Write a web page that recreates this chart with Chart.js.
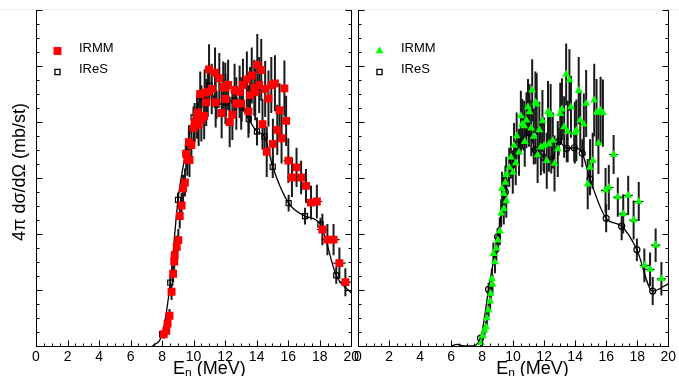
<!DOCTYPE html>
<html lang="en">
<head>
<meta charset="UTF-8">
<title>IRMM / IReS neutron spectra</title>
<script src="https://cdn.jsdelivr.net/npm/chart.js"></script>
<style>
  body { margin: 0; background: #fff; }
  .wrap { position: relative; width: 679px; height: 376px; overflow: hidden; }
  canvas { position: absolute; top: 0; }
  #left { left: 0; }
  #right { left: 340px; }
</style>
</head>
<body>
<div class="wrap">
  <canvas id="left" width="362" height="376"></canvas>
  <canvas id="right" width="339" height="376"></canvas>
</div>
<script>
const FONT = "'Liberation Sans', Arial, sans-serif";

// ---- left panel: IRMM (red squares), IReS (open squares + fit curve)
const leftIrmmE = [8.10, 8.27, 8.35, 8.47, 8.60, 8.70, 8.77, 8.80, 8.93, 9.03, 9.12, 9.24, 9.33, 9.45, 9.53, 9.60, 9.70, 9.74, 9.86, 10.01,
  10.07, 10.22, 10.26, 10.32, 10.42, 10.49, 10.67, 10.70, 10.80, 10.90, 10.98, 11.15, 11.36, 11.40, 11.63, 11.78, 11.88, 12.01, 12.02, 12.19,
  12.29, 12.46, 12.60, 12.71, 12.92, 13.02, 13.13, 13.38, 13.48, 13.58, 13.69, 13.85, 13.91, 14.04, 14.16, 14.29, 14.37, 14.54, 14.64, 14.75,
  14.93, 15.03, 15.16, 15.31, 15.45, 15.58, 15.76, 15.87, 16.01, 16.24, 16.53, 16.82, 17.13, 17.45, 17.82, 18.17, 18.49, 18.88, 19.25, 19.63];
const leftIrmmY = [0.21, 0.27, 0.40, 0.54, 0.97, 1.29, 1.51, 1.62, 1.77, 1.89, 2.32, 2.51, 2.81, 2.92, 3.43, 3.32, 3.64, 3.32, 3.59, 3.89,
  3.99, 4.08, 4.17, 3.95, 4.50, 4.05, 4.11, 4.52, 4.35, 4.54, 4.94, 4.59, 4.88, 4.35, 4.78, 4.16, 4.63, 4.61, 4.41, 4.66,
  4.00, 4.13, 4.57, 4.33, 4.54, 4.33, 4.66, 4.76, 4.19, 4.48, 4.83, 4.61, 4.53, 5.02, 4.66, 4.93, 3.96, 4.59, 3.47, 4.42,
  4.66, 3.61, 4.69, 3.86, 4.21, 3.71, 4.60, 4.02, 3.31, 3.01, 3.19, 3.01, 2.86, 2.56, 2.58, 2.08, 1.90, 1.90, 1.48, 1.14];
const leftIrmmDy = [0.08, 0.10, 0.10, 0.12, 0.15, 0.15, 0.18, 0.18, 0.20, 0.20, 0.22, 0.22, 0.25, 0.25, 0.28, 0.28, 0.30, 0.30, 0.32, 0.35,
  0.35, 0.38, 0.38, 0.38, 0.40, 0.40, 0.42, 0.42, 0.42, 0.45, 0.45, 0.45, 0.45, 0.45, 0.45, 0.45, 0.45, 0.45, 0.45, 0.45,
  0.45, 0.45, 0.47, 0.47, 0.47, 0.47, 0.47, 0.50, 0.47, 0.50, 0.50, 0.50, 0.50, 0.55, 0.50, 0.55, 0.45, 0.50, 0.45, 0.50,
  0.50, 0.45, 0.50, 0.45, 0.48, 0.45, 0.50, 0.45, 0.40, 0.35, 0.35, 0.30, 0.30, 0.30, 0.30, 0.28, 0.28, 0.28, 0.28, 0.25];
const leftIrmmDx = [0, 0, 0, 0, 0, 0, 0, 0, 0, 0, 0, 0, 0, 0, 0, 0, 0, 0, 0, 0,
  0, 0, 0, 0, 0, 0, 0, 0, 0, 0, 0, 0, 0, 0, 0, 0, 0, 0, 0, 0,
  0, 0, 0, 0, 0, 0, 0, 0, 0, 0, 0, 0, 0, 0, 0, 0, 0, 0, 0, 0,
  0, 0, 0, 0, 0, 0, 0, 0, 0.30, 0.30, 0.30, 0.30, 0.30, 0.30, 0.35, 0.35, 0.40, 0.40, 0.40, 0.40];

const leftIresE = [8.0, 8.52, 9.01, 9.5, 10.0, 10.5, 11.0, 11.46, 12.05, 12.6, 13.05, 13.5, 14.02, 14.5, 15.02, 16.03, 17.07, 18.05, 19.05];
const leftIresY = [0.21, 1.13, 2.61, 3.45, 4.08, 4.45, 4.65, 4.31, 4.35, 4.38, 4.26, 4.05, 3.83, 3.74, 3.20, 2.55, 2.32, 2.17, 1.26];
const leftIresDy = [0.05, 0.10, 0.13, 0.15, 0.20, 0.20, 0.25, 0.25, 0.25, 0.25, 0.25, 0.25, 0.25, 0.25, 0.20, 0.15, 0.15, 0.12, 0.15];
const leftCurveE = [7.4].concat(leftIresE, [20]);
const leftCurveY = [0].concat(leftIresY, [0.95]);

// ---- right panel: IRMM (green triangles), IReS (open circles + fit curve)
const rightIrmmE = [7.94, 8.04, 8.15, 8.25, 8.31, 8.42, 8.52, 8.56, 8.63, 8.67, 8.73, 8.83, 8.92, 9.02, 9.14, 9.23, 9.29, 9.40, 9.40, 9.50,
  9.56, 9.56, 9.75, 9.86, 9.98, 10.06, 10.17, 10.23, 10.38, 10.50, 10.58, 10.71, 10.75, 10.86, 10.96, 11.06, 11.17, 11.23, 11.33, 11.44,
  11.52, 11.58, 11.69, 11.79, 11.89, 12.00, 12.17, 12.25, 12.31, 12.42, 12.56, 12.67, 12.88, 13.04, 13.15, 13.29, 13.42, 13.52, 13.63, 13.73,
  13.98, 14.08, 14.23, 14.33, 14.56, 14.71, 14.81, 14.96, 15.13, 15.23, 15.38, 15.50, 15.64, 15.79, 15.96, 16.17, 16.48, 16.75, 17.10, 17.42,
  17.77, 18.10, 18.46, 18.83, 19.19, 19.56];
const rightIrmmY = [0.06, 0.18, 0.28, 0.34, 0.50, 0.64, 0.80, 0.94, 1.20, 1.10, 1.65, 1.50, 1.74, 1.89, 2.05, 2.37, 2.81, 2.45, 2.72, 2.92,
  2.59, 3.06, 3.19, 3.37, 3.10, 3.58, 3.27, 3.75, 3.46, 4.11, 3.96, 3.93, 3.65, 4.03, 4.27, 4.18, 3.89, 4.57, 3.74, 4.35,
  4.32, 3.41, 3.86, 3.55, 4.02, 3.58, 3.31, 4.18, 3.61, 4.13, 3.67, 3.26, 3.52, 4.15, 4.23, 3.91, 4.85, 3.83, 4.75, 4.27,
  3.81, 3.85, 4.56, 4.03, 3.96, 4.33, 2.89, 3.19, 3.31, 4.39, 4.17, 3.62, 4.21, 4.16, 2.78, 2.83, 3.42, 2.66, 2.36, 2.69,
  2.25, 2.58, 1.44, 1.37, 1.80, 1.20];
const rightIrmmDy = [0.06, 0.08, 0.10, 0.10, 0.12, 0.12, 0.15, 0.15, 0.18, 0.18, 0.20, 0.20, 0.22, 0.22, 0.25, 0.25, 0.30, 0.28, 0.30, 0.30,
  0.30, 0.32, 0.35, 0.38, 0.38, 0.40, 0.40, 0.42, 0.42, 0.45, 0.45, 0.45, 0.45, 0.50, 0.50, 0.50, 0.50, 0.55, 0.50, 0.55,
  0.55, 0.50, 0.50, 0.50, 0.55, 0.50, 0.50, 0.55, 0.50, 0.55, 0.50, 0.50, 0.50, 0.55, 0.55, 0.55, 0.55, 0.55, 0.55, 0.55,
  0.55, 0.55, 0.60, 0.55, 0.55, 0.60, 0.45, 0.50, 0.50, 0.65, 0.60, 0.55, 0.60, 0.60, 0.40, 0.40, 0.35, 0.35, 0.35, 0.35,
  0.35, 0.35, 0.30, 0.30, 0.30, 0.30];
const rightIrmmDx = [0, 0, 0, 0, 0, 0, 0, 0, 0, 0, 0, 0, 0, 0, 0, 0, 0, 0, 0, 0,
  0, 0, 0, 0, 0, 0, 0, 0, 0, 0, 0, 0, 0, 0, 0, 0, 0, 0, 0, 0,
  0, 0, 0, 0, 0, 0, 0, 0, 0, 0, 0, 0, 0, 0, 0, 0, 0, 0, 0, 0,
  0, 0, 0, 0, 0, 0, 0, 0, 0, 0, 0, 0, 0, 0, 0.30, 0.30, 0.30, 0.30, 0.30, 0.30,
  0.30, 0.30, 0.30, 0.30, 0.30, 0.30];

const rightIresE = [7.9, 8.42, 9.0, 9.5, 10.0, 10.5, 11.02, 11.44, 11.96, 12.46, 12.94, 13.46, 13.94, 14.46, 14.96, 16.0, 17.0, 17.98, 19.0];
const rightIresY = [0.14, 1.01, 1.95, 2.75, 3.30, 3.67, 3.81, 3.50, 3.37, 3.33, 3.65, 3.53, 3.54, 3.44, 2.98, 2.28, 2.14, 1.72, 0.98];
const rightIresDy = [0.05, 0.12, 0.15, 0.20, 0.20, 0.25, 0.25, 0.25, 0.25, 0.25, 0.25, 0.25, 0.25, 0.25, 0.25, 0.25, 0.25, 0.20, 0.25];
const rightCurveE = [6.0, 6.4, 6.8, 7.3].concat(rightIresE, [20]);
const rightCurveY = [0, 0.03, 0, 0].concat(rightIresY, [1.11]);

function pts(xs, ys) {
  return xs.map((x, i) => ({ x: x, y: ys[i] }));
}

// vertical (and horizontal) error bars, under the markers
const errorBars = {
  id: 'errorBars',
  beforeDatasetsDraw(chart) {
    const ctx = chart.ctx, xs = chart.scales.x, ys = chart.scales.y, a = chart.chartArea;
    ctx.save();
    ctx.beginPath();
    ctx.rect(a.left, a.top, a.right - a.left, a.bottom - a.top);
    ctx.clip();
    ctx.strokeStyle = '#1a1a1a';
    chart.data.datasets.forEach(ds => {
      if (!ds.dy) return;
      ds.data.forEach((p, i) => {
        const px = xs.getPixelForValue(p.x);
        ctx.lineWidth = 2;
        ctx.beginPath();
        ctx.moveTo(px, ys.getPixelForValue(p.y - ds.dy[i]));
        ctx.lineTo(px, ys.getPixelForValue(p.y + ds.dy[i]));
        ctx.stroke();
        if (ds.dx && ds.dx[i]) {
          const py = ys.getPixelForValue(p.y);
          ctx.lineWidth = 1.2;
          ctx.beginPath();
          ctx.moveTo(xs.getPixelForValue(p.x - ds.dx[i]), py);
          ctx.lineTo(xs.getPixelForValue(p.x + ds.dx[i]), py);
          ctx.stroke();
        }
      });
    });
    ctx.restore();
  }
};

// frame with inward ticks, titles and the little legend
const frame = {
  id: 'frame',
  afterDraw(chart, args, opts) {
    const ctx = chart.ctx, xs = chart.scales.x, ys = chart.scales.y, a = chart.chartArea;
    const L = Math.round(a.left) + 0.5, R = Math.round(a.right) + 0.5, B = Math.round(a.bottom) + 0.5;
    ctx.save();
    ctx.strokeStyle = '#ececec';
    ctx.lineWidth = 1;
    ctx.beginPath();
    ctx.moveTo(0, 9.5); ctx.lineTo(chart.width, 9.5);
    ctx.stroke();

    ctx.strokeStyle = '#000';
    ctx.beginPath();
    ctx.moveTo(L, a.top); ctx.lineTo(L, B); ctx.lineTo(R, B); ctx.lineTo(R, a.top);
    for (let v = 0; v <= 6.001; v += 0.25) {
      const py = Math.round(ys.getPixelForValue(v)) + 0.5;
      const len = Math.abs(v - Math.round(v)) < 1e-6 ? 6 : 3;
      ctx.moveTo(L, py); ctx.lineTo(L + len, py);
      ctx.moveTo(R, py); ctx.lineTo(R - len, py);
    }
    for (let v = 0; v <= 20.001; v += 0.5) {
      const px = Math.round(xs.getPixelForValue(v)) + 0.5;
      const len = Math.abs(v / 2 - Math.round(v / 2)) < 1e-6 ? 6 : 3;
      ctx.moveTo(px, B); ctx.lineTo(px, B - len);
    }
    ctx.stroke();

    // x title with a real subscript
    ctx.fillStyle = '#000';
    ctx.textBaseline = 'alphabetic';
    const big = '18px ' + FONT, small = '12px ' + FONT;
    ctx.font = big;
    const wE = ctx.measureText('E').width, wRest = ctx.measureText(' (MeV)').width;
    ctx.font = small;
    const wN = ctx.measureText('n').width;
    let tx = xs.getPixelForValue(opts.titleAt) - (wE + wN + wRest) / 2;
    const ty = 374;
    ctx.font = big; ctx.textAlign = 'left';
    ctx.fillText('E', tx, ty); tx += wE;
    ctx.font = small; ctx.fillText('n', tx, ty + 3); tx += wN;
    ctx.font = big; ctx.fillText(' (MeV)', tx, ty);

    if (opts.yTitle) {
      ctx.save();
      ctx.translate(20, 172);
      ctx.rotate(-Math.PI / 2);
      ctx.textAlign = 'center';
      ctx.textBaseline = 'middle';
      ctx.font = big;
      ctx.fillText(opts.yTitle, 0, 0);
      ctx.restore();
    }

    // legend
    const mx = a.left + 21.5, tx0 = a.left + 43;
    ctx.font = '13px ' + FONT;
    ctx.textAlign = 'left';
    ctx.textBaseline = 'middle';
    opts.legend.forEach((item, k) => {
      const my = 51 + k * 21;
      ctx.fillStyle = item.fill;
      ctx.strokeStyle = '#000';
      ctx.lineWidth = item.border || 0;
      Chart.helpers.drawPoint(ctx, {
        pointStyle: item.style, radius: item.radius, rotation: 0, borderWidth: item.border || 0
      }, mx, my);
      ctx.fillStyle = '#000';
      ctx.fillText(item.text, tx0, my - 2.5);
    });
    ctx.restore();
  }
};

function panelOptions(padLeft, padRight, frameOpts) {
  return {
    responsive: false,
    animation: false,
    devicePixelRatio: 1,
    layout: { padding: { left: padLeft, right: padRight, top: 10, bottom: 0 }, autoPadding: false },
    plugins: {
      legend: { display: false },
      tooltip: { enabled: false },
      frame: frameOpts
    },
    scales: {
      x: {
        type: 'linear', min: 0, max: 20, position: 'bottom',
        grid: { display: false, drawTicks: false },
        border: { display: false },
        ticks: { stepSize: 2, color: '#000', font: { family: FONT, size: 14 }, padding: 3, maxRotation: 0, autoSkip: false },
        afterFit: s => { s.height = 30; }
      },
      y: { type: 'linear', min: 0, max: 6, display: false }
    }
  };
}

new Chart(document.getElementById('left'), {
  type: 'scatter',
  data: {
    datasets: [
      { label: 'IRMM', data: pts(leftIrmmE, leftIrmmY), dy: leftIrmmDy, dx: leftIrmmDx,
        pointStyle: 'rect', pointRadius: 5.6, backgroundColor: '#ff0000', borderWidth: 0, order: 1 },
      { label: 'IReS', data: pts(leftIresE, leftIresY), dy: leftIresDy,
        pointStyle: 'rect', pointRadius: 3.6, backgroundColor: 'rgba(0,0,0,0)', borderColor: '#000', borderWidth: 1.2, order: 2 },
      { label: 'fit', data: pts(leftCurveE, leftCurveY), showLine: true, pointRadius: 0,
        borderColor: '#000', borderWidth: 1.3, cubicInterpolationMode: 'monotone', order: 3 }
    ]
  },
  options: panelOptions(36, 5, {
    titleAt: 11.0,
    yTitle: '4\u03c0 d\u03c3/d\u03a9 (mb/st)',
    legend: [
      { text: 'IRMM', style: 'rect', radius: 5.6, fill: '#ff0000' },
      { text: 'IReS', style: 'rect', radius: 3.6, fill: 'rgba(0,0,0,0)', border: 1.3 }
    ]
  }),
  plugins: [errorBars, frame]
});

new Chart(document.getElementById('right'), {
  type: 'scatter',
  data: {
    datasets: [
      { label: 'IRMM', data: pts(rightIrmmE, rightIrmmY), dy: rightIrmmDy, dx: rightIrmmDx,
        pointStyle: 'triangle', pointRadius: 4.6, backgroundColor: '#00ff00', borderWidth: 0, order: 1 },
      { label: 'IReS', data: pts(rightIresE, rightIresY), dy: rightIresDy,
        pointStyle: 'circle', pointRadius: 3, backgroundColor: 'rgba(0,0,0,0)', borderColor: '#000', borderWidth: 1.2, order: 2 },
      { label: 'fit', data: pts(rightCurveE, rightCurveY), showLine: true, pointRadius: 0,
        borderColor: '#000', borderWidth: 1.3, cubicInterpolationMode: 'monotone', order: 3 }
    ]
  },
  options: panelOptions(18, 1, {
    titleAt: 11.25,
    legend: [
      { text: 'IRMM', style: 'triangle', radius: 4.6, fill: '#00ff00' },
      { text: 'IReS', style: 'rect', radius: 3.6, fill: 'rgba(0,0,0,0)', border: 1.3 }
    ]
  }),
  plugins: [errorBars, frame]
});
</script>
</body>
</html>
